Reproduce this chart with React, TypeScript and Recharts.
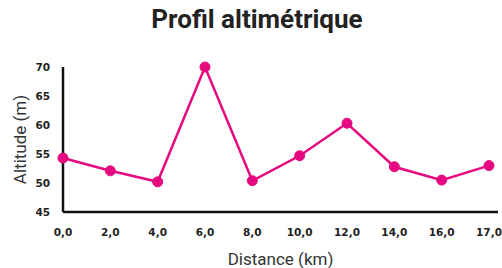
import { LineChart, Line, XAxis, YAxis } from 'recharts';

const distances = ['0,0', '2,0', '4,0', '6,0', '8,0', '10,0', '12,0', '14,0', '16,0', '17,0'];
const altitudes = [54.3, 52.1, 50.2, 70, 50.4, 54.7, 60.3, 52.8, 50.5, 53];
const yTicks = [45, 50, 55, 60, 65, 70];

const data = distances.map((d, i) => ({ distance: d, altitude: altitudes[i] }));

const PINK = '#e6097f';

const App = () => {
  return (
    <div style={{ position: 'absolute', left: 0, top: 0, width: 502, height: 268, background: '#fff' }}>
      <div
        style={{
          position: 'absolute',
          left: 0,
          width: 514,
          top: 4,
          textAlign: 'center',
          fontFamily: 'Roboto',
          fontWeight: 700,
          fontSize: 26,
          color: '#222',
        }}
      >
        Profil altimétrique
      </div>
      <LineChart
        width={502}
        height={268}
        data={data}
        margin={{ top: 67, right: 4, left: 0, bottom: 0 }}
      >
        <XAxis
          dataKey="distance"
          axisLine={{ stroke: '#111', strokeWidth: 2.5 }}
          tickLine={false}
          tickMargin={11}
          height={56}
          padding={{ left: 0, right: 9 }}
          tick={{ fill: '#222', fontSize: 10.5, fontWeight: 700, fontFamily: 'DejaVu Sans' }}
          interval={0}
          label={{
            value: 'Distance (km)',
            position: 'insideBottom',
            offset: 3,
            style: { fill: '#333', fontSize: 17, fontFamily: 'Roboto' },
          }}
        />
        <YAxis
          domain={[45, 70]}
          ticks={yTicks}
          width={63}
          axisLine={{ stroke: '#111', strokeWidth: 2.5 }}
          tickLine={false}
          tickMargin={7}
          tick={{ fill: '#222', fontSize: 10.5, fontWeight: 700, fontFamily: 'DejaVu Sans' }}
          label={{
            value: 'Altitude (m)',
            angle: -90,
            position: 'insideLeft',
            offset: 20,
            style: { textAnchor: 'middle', fill: '#333', fontSize: 17, fontFamily: 'Roboto' },
          }}
        />
        <Line
          type="linear"
          dataKey="altitude"
          stroke={PINK}
          strokeWidth={2.5}
          dot={{ r: 5, fill: PINK, stroke: PINK, strokeWidth: 1 }}
          isAnimationActive={false}
        />
      </LineChart>
    </div>
  );
};

export default App;
